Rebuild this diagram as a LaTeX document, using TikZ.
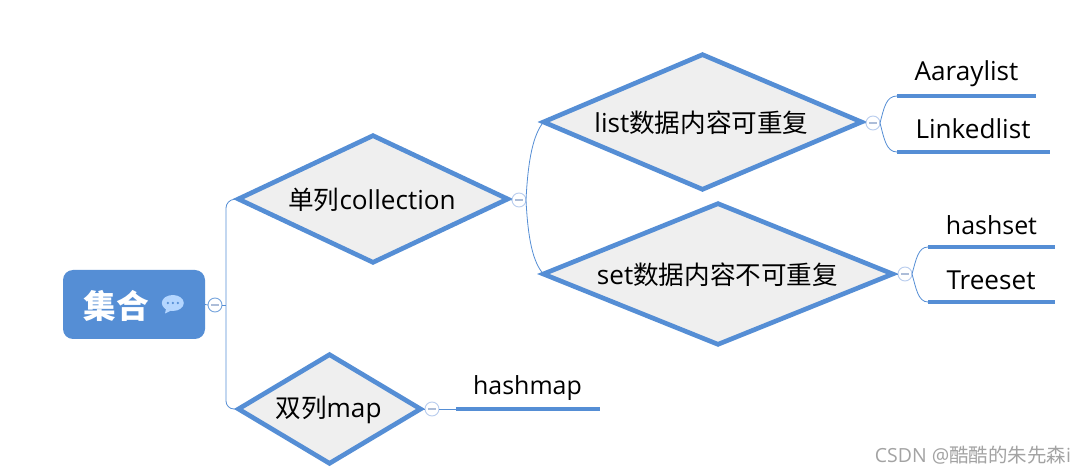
\documentclass[tikz,border=0pt]{standalone}
\usepackage{fontspec}
\setmainfont{Noto Sans CJK SC}
\newfontfamily\latinf{Open Sans}
\usetikzlibrary{shapes.geometric}
\definecolor{mblue}{HTML}{558ED5}
\definecolor{mfill}{HTML}{EFEFEF}
\definecolor{mpale}{HTML}{B9CDEE}
\definecolor{notefill}{HTML}{B4D6FF}
\newcommand{\txt}{\fontsize{19.2}{24}\selectfont}
\newcommand{\ltx}{\latinf\fontsize{19.6}{24}\selectfont}
\newcommand{\lts}{\latinf\fontsize{18.7}{24}\selectfont}
\tikzset{
  x=0.75pt,y=-0.75pt,
  dia/.style={diamond,draw=mblue,fill=mfill,line width=3.5pt,inner sep=0pt,outer sep=0pt,font=\txt,text=black},
  leaf/.style={font=\txt,text=black,inner sep=0pt,anchor=center},
  under/.style={draw=mblue,line width=3.3pt},
  wire/.style={draw=mblue,line width=0.6pt},
  fold/.style={circle,draw=mpale,fill=white,line width=0.7pt,minimum size=10.5pt,inner sep=0pt,outer sep=0pt},
  folddash/.style={draw=mpale!80!gray,line width=0.9pt}
}
\begin{document}
\begin{tikzpicture}
\useasboundingbox (0,0) rectangle (1087,473);
\fill[white] (0,0) rectangle (1087,473);
% root
\node[fill=mblue,rounded corners=7.5pt,minimum width=106.5pt,minimum height=51.75pt,inner sep=0pt,outer sep=0pt] (root) at (134,304.5) {};
\node[font=\fontsize{24.5}{28}\selectfont\bfseries,text=white,inner sep=0pt] (roottxt) at (116,306) {集合};
% note icon
\fill[notefill] (166,309) -- (165,313.5) -- (172,310) -- cycle;
\node[ellipse,fill=notefill,minimum width=16.5pt,minimum height=12pt,inner sep=0pt] (note) at (172.8,303) {};
\foreach \dx in {-5,0,5} \fill[mblue] ([xshift=\dx*0.75pt]note.center) circle (0.95pt);
% diamonds
\node[dia,aspect=2.1,minimum width=202pt,minimum height=95pt] (single) at (373,199) {\phantom{x}};
\node[leaf] at (372,200) {单列{\ltx collection}};
\node[dia,aspect=2.33,minimum width=238.5pt,minimum height=101pt] (list) at (702.5,122) {\phantom{x}};
\node[leaf] at (701.5,123) {{\ltx list}数据内容可重复};
\node[dia,aspect=2.48,minimum width=262pt,minimum height=105.5pt] (set) at (718,274) {\phantom{x}};
\node[leaf] at (717.5,275) {{\ltx set}数据内容不可重复};
\node[dia,aspect=1.66,minimum width=136.5pt,minimum height=81.5pt] (dbl) at (329.5,409) {\phantom{x}};
\node[leaf] at (328.5,410) {双列{\ltx map}};
% fold markers
\node[fold,draw=mblue!80!white] (f0) at (215,305) {};
\node[fold] (f1) at (519,200) {};
\node[fold] (f2) at (873,123) {};
\node[fold] (f3) at (905,274) {};
\node[fold] (f4) at (432,409) {};
\foreach \f in {f0,f1,f2,f3,f4}
  \draw[folddash] ([xshift=-3pt]\f.center) -- ([xshift=3pt]\f.center);
% leaves
\coordinate (a1) at (897,96);  \coordinate (a2) at (1036,96);
\coordinate (b1) at (897,152); \coordinate (b2) at (1050,152);
\coordinate (c1) at (928,247); \coordinate (c2) at (1055,247);
\coordinate (d1) at (928,302); \coordinate (d2) at (1055,302);
\coordinate (e1) at (456,409); \coordinate (e2) at (600,409);
\draw[under] (a1) -- (a2);
\draw[under] (b1) -- (b2);
\draw[under] (c1) -- (c2);
\draw[under] (d1) -- (d2);
\draw[under] (e1) -- (e2);
\node[leaf,font=\ltx] (t1) at (966.5,74) {Aaraylist};
\node[leaf,font=\ltx] (t2) at (973,129) {Linkedlist};
\node[leaf,font=\lts] (t3) at (991.5,225) {hashset};
\node[leaf,font=\ltx] (t4) at (991,280) {Treeset};
\node[leaf,font=\lts] (t5) at (527.5,388) {hashmap};
% connectors
\draw[wire] (root.east) -- (f0.west);
\draw[wire] (f0.east) -- (226,305);
\draw[wire,rounded corners=6pt] (single.west) -- (226,200) -- (226,409) -- (dbl.west);
\draw[wire] (f1.east) .. controls (528,160) and (533,135) .. (list.west);
\draw[wire] (f1.east) .. controls (528,240) and (533,262) .. (set.west);
\draw[wire] (f2.east) .. controls (884,108) and (886,96) .. (a1);
\draw[wire] (f2.east) .. controls (884,138) and (886,152) .. (b1);
\draw[wire] (f3.east) .. controls (916,260) and (918,247) .. (c1);
\draw[wire] (f3.east) .. controls (916,288) and (918,302) .. (d1);
\draw[wire] (f4.east) -- (e1);
\draw[wire] (dbl.east) -- (f4.west);
\draw[wire] (single.east) -- (f1.west);
\draw[wire] (list.east) -- (f2.west);
\draw[wire] (set.east) -- (f3.west);
% watermark
\node[inner sep=0pt,text=black!36,font=\fontsize{14.6}{16}\selectfont] (wm) at (973,455) {{\latinf CSDN @}酷酷的朱先森{\latinf i}};
\end{tikzpicture}
\end{document}
